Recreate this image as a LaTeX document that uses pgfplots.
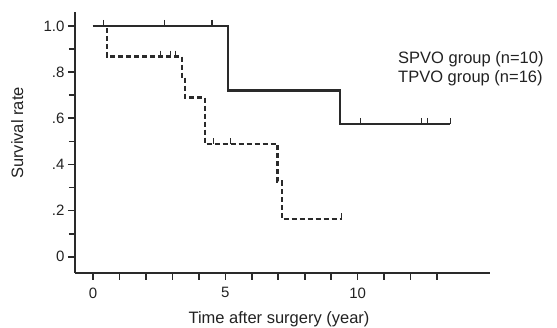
\documentclass[border=0pt]{standalone}
\usepackage{pgfplots}
\pgfplotsset{compat=1.18}
\usepackage{fontspec}
\setmainfont{Liberation Sans}
\definecolor{ln}{HTML}{2a2a2a}
\definecolor{tx}{HTML}{222222}
\begin{document}
\begin{tikzpicture}
\path[use as bounding box] (0,0) rectangle (557pt,328pt);
\begin{axis}[
  at={(75pt,55pt)}, anchor=south west,
  scale only axis, width=415pt, height=261pt,
  xmin=-0.68, xmax=15, ymin=-0.07, ymax=1.06,
  axis x line=bottom, axis y line=left,
  axis line style={ln, line width=2pt, -},
  xtick={0,1,...,13},
  xticklabels={0,,,,,5,,,,,10,,,},
  ytick={0,0.2,0.4,0.6,0.8,1.0},
  yticklabels={0,.2,.4,.6,.8,1.0},
  minor ytick={0.1,0.3,0.5,0.7,0.9},
  tick align=outside,
  major tick length=7pt, minor tick length=6pt,
  tick style={ln, line width=1.6pt},
  /pgf/number format/assume math mode=true,
  tick label style={font=\fontsize{15}{18}\selectfont, text=tx},
  xticklabel style={yshift=-4pt},
  clip=false,
]
\addplot[const plot, ln, line width=2.3pt] coordinates {
 (0,1) (5.1,0.72) (9.33,0.576) (13.5,0.576)};
\addplot[const plot, ln, line width=2.3pt, dash pattern=on 5pt off 3pt] coordinates {
 (0,1) (0.53,0.867) (3.37,0.78) (3.48,0.69) (4.24,0.488) (6.97,0.326) (7.13,0.163) (9.4,0.163)};
\addplot[only marks, mark=|, mark size=3pt, ln, line width=1.2pt,
  every mark/.append style={yshift=3pt}] coordinates {
 (0.41,1) (2.7,1) (4.5,1) (10.1,0.576) (12.4,0.576) (12.65,0.576) (13.5,0.576)};
\addplot[only marks, mark=|, mark size=3pt, ln, line width=1pt,
  every mark/.append style={yshift=3pt}] coordinates {
 (2.56,0.867) (2.92,0.867) (3.1,0.867) (4.55,0.488) (5.2,0.488) (9.4,0.163)};
\end{axis}
\node[anchor=base west, text=tx, font=\fontsize{16.5}{19}\selectfont, inner sep=0pt] at (398pt,264.5pt) {SPVO group (n=10)};
\node[anchor=base west, text=tx, font=\fontsize{16.5}{19}\selectfont, inner sep=0pt] at (398pt,245.3pt) {TPVO group (n=16)};
\node[anchor=base, text=tx, font=\fontsize{16.5}{19}\selectfont, inner sep=0pt] at (279pt,4pt) {Time after surgery (year)};
\node[anchor=base, rotate=90, text=tx, font=\fontsize{16.5}{19}\selectfont, inner sep=0pt] at (23pt,195pt) {Survival rate};
\end{tikzpicture}
\end{document}
